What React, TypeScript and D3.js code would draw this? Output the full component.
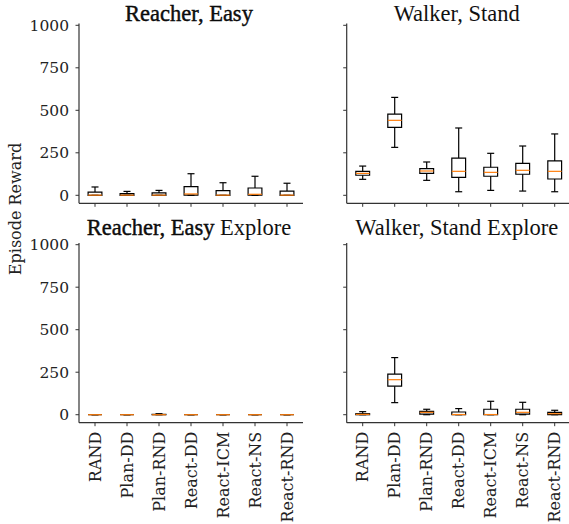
import React from 'react';
import * as d3 from 'd3';

// [whiskerLow, q1, median, q3, whiskerHigh] per method
const methods = ['RAND', 'Plan-DD', 'Plan-RND', 'React-DD', 'React-ICM', 'React-NS', 'React-RND'];

const reacherEasy = [
  [0, 0, 1, 19, 49],
  [0, 0, 1, 10, 23],
  [0, 0, 1, 14, 29],
  [0, 1, 8, 51, 127],
  [0, 0, 1, 27, 74],
  [0, 1, 6, 43, 112],
  [0, 0, 1, 25, 71],
];

const walkerStand = [
  [94, 118, 129, 141, 172],
  [282, 400, 441, 478, 576],
  [88, 129, 143, 157, 196],
  [21, 106, 141, 219, 396],
  [29, 112, 135, 165, 247],
  [25, 124, 147, 188, 290],
  [21, 96, 141, 202, 361],
];

const reacherEasyExplore = [
  [0, 0, 0, 0, 0],
  [0, 0, 0, 0, 0],
  [0, 0, 0, 2, 6],
  [0, 0, 0, 0, 0],
  [0, 0, 0, 0, 0],
  [0, 0, 0, 0, 0],
  [0, 0, 0, 0, 0],
];

const walkerStandExplore = [
  [0, 0, 2, 6, 18],
  [71, 168, 206, 239, 336],
  [0, 4, 14, 20, 32],
  [0, 0, 1, 16, 36],
  [0, 0, 1, 32, 79],
  [0, 3, 14, 32, 73],
  [0, 1, 6, 14, 26],
];

const yTicks = [0, 250, 500, 750, 1000];

const axisColor = '#333';
const tickFont = "'DejaVu Serif', serif";
const titleFont = "'Liberation Serif', 'Times New Roman', serif";

type PanelProps = {
  data: number[][];
  title: React.ReactNode;
  x0: number;
  yBottom: number;
  showYLabels: boolean;
  showXLabels: boolean;
  titleY: number;
};

const Panel: React.FC<PanelProps> = ({ data, title, x0, yBottom, showYLabels, showXLabels, titleY }) => {
  const width = 224;
  const height = 179.7;
  const x = d3.scaleLinear().domain([0.5, 7.5]).range([x0, x0 + width]);
  const y = d3.scaleLinear().domain([-47, 1010]).range([yBottom, yBottom - height]);
  const boxW = 13.8;
  const capW = 7;

  return (
    <g>
      {data.map((d, i) => {
        const cx = x(i + 1);
        const [lo, q1, med, q3, hi] = d;
        const bx = cx - boxW / 2;
        return (
          <g key={i} stroke="#000" strokeWidth={1.2} fill="none">
            <line x1={cx} x2={cx} y1={y(q3)} y2={y(hi)} />
            <line x1={cx} x2={cx} y1={y(q1)} y2={y(lo)} />
            <line x1={cx - capW / 2} x2={cx + capW / 2} y1={y(hi)} y2={y(hi)} />
            <line x1={cx - capW / 2} x2={cx + capW / 2} y1={y(lo)} y2={y(lo)} />
            <path d={`M${bx},${y(q3)}H${bx + boxW}V${y(q1)}H${bx}Z`} />
            <line x1={bx} x2={bx + boxW} y1={y(med)} y2={y(med)} stroke="#ff7f0e" />
          </g>
        );
      })}
      {/* spines */}
      <line x1={x0} x2={x0} y1={yBottom} y2={yBottom - height} stroke={axisColor} strokeWidth={1.2} />
      <line x1={x0} x2={x0 + width} y1={yBottom} y2={yBottom} stroke={axisColor} strokeWidth={1.2} />
      {yTicks.map((t) => (
        <g key={t}>
          <line x1={x0} x2={x0 - 3.5} y1={y(t)} y2={y(t)} stroke={axisColor} strokeWidth={1} />
          {showYLabels && (
            <text x={x0 - 10} y={y(t)} dy="0.36em" textAnchor="end" style={{ fontFamily: tickFont }} fontSize={15.5} fill="#222">
              {t}
            </text>
          )}
        </g>
      ))}
      {methods.map((m, i) => (
        <g key={m}>
          <line x1={x(i + 1)} x2={x(i + 1)} y1={yBottom} y2={yBottom + 3.5} stroke={axisColor} strokeWidth={1} />
          {showXLabels && (
            <text
              transform={`translate(${x(i + 1)},${yBottom + 9}) rotate(-90)`}
              dy="0.36em"
              textAnchor="end"
              style={{ fontFamily: tickFont }}
              fontSize={16}
              fill="#222"
            >
              {m}
            </text>
          )}
        </g>
      ))}
      <text x={x0 + width / 2 - 2} y={titleY} textAnchor="middle" style={{ fontFamily: titleFont }} fontSize={22.5} fill="#111">
        {title}
      </text>
    </g>
  );
};

const App: React.FC = () => {
  return (
    <svg width={569} height={524} style={{ position: 'absolute', left: 0, top: 0, background: '#fff' }}>
      <Panel
        data={reacherEasy}
        title={<tspan stroke="#000" strokeWidth={0.4}>Reacher, Easy</tspan>}
        x0={79}
        yBottom={203.3}
        showYLabels
        showXLabels={false}
        titleY={21}
      />
      <Panel data={walkerStand} title="Walker, Stand" x0={346.7} yBottom={203.3} showYLabels={false} showXLabels={false} titleY={21} />
      <Panel
        data={reacherEasyExplore}
        title={
          <>
            <tspan stroke="#000" strokeWidth={0.4}>Reacher, Easy</tspan> Explore
          </>
        }
        x0={79}
        yBottom={422.7}
        showYLabels
        showXLabels
        titleY={235}
      />
      <Panel data={walkerStandExplore} title="Walker, Stand Explore" x0={346.7} yBottom={422.7} showYLabels={false} showXLabels titleY={235} />
      <text
        transform="translate(15.5,209) rotate(-90)"
        dy="0.36em"
        textAnchor="middle"
        style={{ fontFamily: tickFont }}
        fontSize={16}
        fill="#222"
      >
        Episode Reward
      </text>
    </svg>
  );
};

export default App;
